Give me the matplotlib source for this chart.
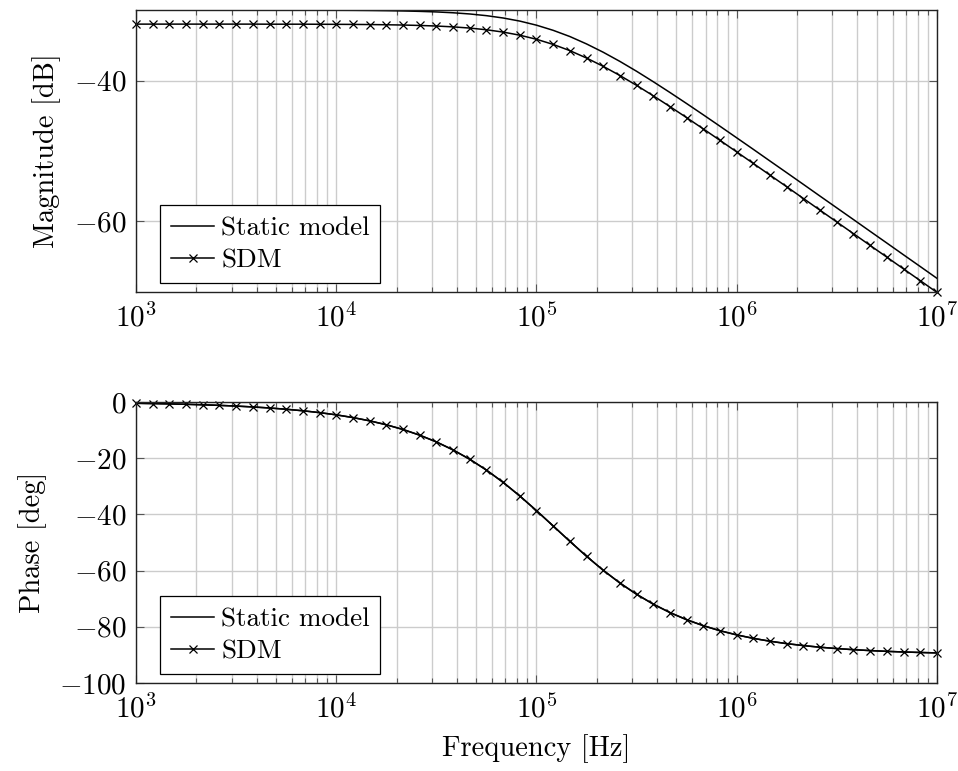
import numpy as np
import matplotlib
matplotlib.use("Agg")
import matplotlib.pyplot as plt
from matplotlib.ticker import LogLocator, NullFormatter

# frequencies of the SDM samples (12 per decade, 1 kHz .. 10 MHz)
freq = [10 ** (3 + k / 12) for k in range(49)]

static_mag = [-30.00, -30.00, -30.00, -30.00, -30.00, -30.00, -30.00, -30.00,
              -30.01, -30.01, -30.01, -30.02, -30.03, -30.04, -30.06, -30.09,
              -30.13, -30.19, -30.27, -30.39, -30.56, -30.80, -31.13, -31.57,
              -32.15, -32.88, -33.76, -34.81, -35.99, -37.29, -38.69, -40.17,
              -41.70, -43.27, -44.87, -46.49, -48.13, -49.77, -51.43, -53.08,
              -54.74, -56.41, -58.07, -59.73, -61.40, -63.06, -64.73, -66.39,
              -68.06]

sdm_mag = [-32.00, -32.00, -32.00, -32.00, -32.00, -32.00, -32.00, -32.00,
           -32.01, -32.01, -32.01, -32.02, -32.03, -32.04, -32.06, -32.09,
           -32.13, -32.19, -32.27, -32.39, -32.56, -32.80, -33.13, -33.57,
           -34.15, -34.88, -35.76, -36.81, -37.99, -39.29, -40.69, -42.17,
           -43.70, -45.27, -46.87, -48.49, -50.13, -51.77, -53.43, -55.08,
           -56.74, -58.41, -60.07, -61.73, -63.40, -65.06, -66.73, -68.39,
           -70.06]

phase = [-0.46, -0.56, -0.67, -0.82, -0.99, -1.20, -1.45, -1.76,
         -2.13, -2.58, -3.12, -3.78, -4.57, -5.54, -6.70, -8.10,
         -9.78, -11.80, -14.20, -17.05, -20.38, -24.22, -28.59, -33.44,
         -38.66, -44.10, -49.58, -54.90, -59.88, -64.41, -68.43, -71.93,
         -74.93, -77.47, -79.60, -81.39, -82.87, -84.11, -85.13, -85.98,
         -86.68, -87.26, -87.74, -88.13, -88.46, -88.73, -88.95, -89.13,
         -89.28]

x_ticks = [1e3, 1e4, 1e5, 1e6, 1e7]
x_labels = ['$10^{3}$', '$10^{4}$', '$10^{5}$', '$10^{6}$', '$10^{7}$']
mag_ticks = [-60, -40]
phase_ticks = [-100, -80, -60, -40, -20, 0]

plt.rcParams['font.family'] = 'serif'
plt.rcParams['font.serif'] = ['cmr10', 'DejaVu Serif']
plt.rcParams['mathtext.fontset'] = 'cm'
plt.rcParams['axes.formatter.use_mathtext'] = True

fig = plt.figure(figsize=(9.58, 7.71), dpi=100)
ax1 = fig.add_axes([0.142, 0.6213, 0.836, 0.3657])
ax2 = fig.add_axes([0.142, 0.1141, 0.836, 0.3645])


def style(ax, yticks):
    ax.set_xscale('log')
    ax.set_xlim(1e3, 1e7)
    ax.set_xticks(x_ticks)
    ax.set_xticklabels(x_labels)
    ax.xaxis.set_minor_locator(LogLocator(base=10, subs=np.arange(2, 10)))
    ax.xaxis.set_minor_formatter(NullFormatter())
    ax.set_yticks(yticks)
    ax.set_yticklabels(['$%d$' % t for t in yticks])
    ax.grid(True, which='major', color='#cccccc', linewidth=1.0)
    ax.grid(True, which='minor', axis='x', color='#cccccc', linewidth=1.0)
    ax.set_axisbelow(True)
    ax.tick_params(which='both', direction='in', top=True, right=True,
                   color='#555555', labelsize=21)
    ax.tick_params(axis='x', which='major', pad=8)
    ax.tick_params(axis='y', which='major', pad=7)
    ax.tick_params(which='major', length=6, width=0.8)
    ax.tick_params(which='minor', length=3.5, width=0.8)
    for s in ax.spines.values():
        s.set_linewidth(1.0)
        s.set_color('#222222')


ax1.plot(freq, static_mag, color='black', linewidth=1.1, label='Static model')
ax1.plot(freq, sdm_mag, color='black', linewidth=1.1, marker='x',
         markersize=6, markeredgewidth=0.9, label='SDM', clip_on=False)
ax1.set_ylim(-70, -30)
style(ax1, mag_ticks)
ax1.set_ylabel('Magnitude [dB]', fontsize=20.5, labelpad=9)

ax2.plot(freq, phase, color='black', linewidth=1.1, label='Static model')
ax2.plot(freq, phase, color='black', linewidth=1.1, marker='x',
         markersize=6, markeredgewidth=0.9, label='SDM', clip_on=False)
ax2.set_ylim(-100, 0)
style(ax2, phase_ticks)
ax2.set_ylabel('Phase [deg]', fontsize=20.5, labelpad=9)
ax2.set_xlabel('Frequency [Hz]', fontsize=20.5, labelpad=8)

for ax in (ax1, ax2):
    leg = ax.legend(loc='lower left', bbox_to_anchor=(0.03, 0.032),
                    fontsize=19.5, frameon=True, fancybox=False,
                    edgecolor='black', framealpha=1, handlelength=1.6,
                    handletextpad=0.25, borderpad=0.4, labelspacing=0.3,
                    borderaxespad=0)
    leg.get_frame().set_linewidth(0.9)

fig.savefig('out.png', dpi=100)
